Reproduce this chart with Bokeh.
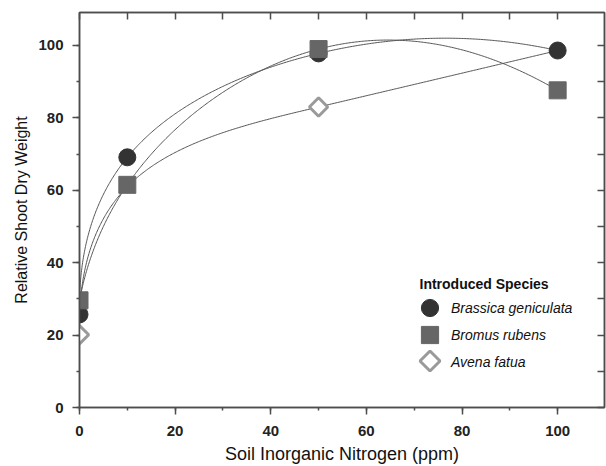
import numpy as np
from bokeh.plotting import figure
from bokeh.models import (Range1d, LinearAxis, SingleIntervalTicker, Legend, LegendItem, Label,
                          PolyAnnotation)
from bokeh.embed import file_html
from bokeh.resources import INLINE

# ---- data ----
nitrogen = [0, 10, 50, 100]
brassica = [25.7, 69.1, 97.8, 98.6]
bromus = [29.6, 61.5, 99.0, 87.6]
avena = [20.1, 61.0, 83.0, 98.6]
avena_marked = [True, False, True, False]   # markers hidden behind other series in the original
names = ["Brassica geniculata", "Bromus rubens", "Avena fatua"]
x_ticks = [0, 20, 40, 60, 80, 100]
y_ticks = [0, 20, 40, 60, 80, 100]

X_MAX, Y_MAX = 109.8, 109.1
W, H = 606, 466
B_LEFT, B_TOP, B_BOTTOM, B_RIGHT = 79, 12, 59, 2
PX_X = (W - B_LEFT - B_RIGHT) / X_MAX
PX_Y = (H - B_TOP - B_BOTTOM) / Y_MAX


def spline_1d(t, v, tt):
    # cubic spline with parabolic run-out end conditions
    k = len(t); h = np.diff(t)
    A = np.zeros((k, k)); b = np.zeros(k)
    A[0, 0] = 1; A[0, 1] = -1
    A[-1, -1] = 1; A[-1, -2] = -1
    for i in range(1, k - 1):
        A[i, i - 1] = h[i - 1]; A[i, i] = 2 * (h[i - 1] + h[i]); A[i, i + 1] = h[i]
        b[i] = 6 * ((v[i + 1] - v[i]) / h[i] - (v[i] - v[i - 1]) / h[i - 1])
    M = np.linalg.solve(A, b)
    out = np.empty_like(tt)
    for j, x in enumerate(tt):
        i = min(max(np.searchsorted(t, x, side="right") - 1, 0), k - 2)
        s = (x - t[i]) / h[i]
        out[j] = ((1 - s) * v[i] + s * v[i + 1]
                  + h[i] ** 2 / 6 * (((1 - s) ** 3 - (1 - s)) * M[i] + (s ** 3 - s) * M[i + 1]))
    return out


def parametric_spline(xs, ys, n=400):
    # chord-length parametric spline computed in screen space
    sx = np.asarray(xs, float) * PX_X
    sy = np.asarray(ys, float) * PX_Y
    t = np.concatenate([[0], np.cumsum(np.hypot(np.diff(sx), np.diff(sy)))])
    tt = np.linspace(0, t[-1], n)
    return spline_1d(t, sx, tt) / PX_X, spline_1d(t, sy, tt) / PX_Y


p = figure(width=W, height=H, output_backend="svg", toolbar_location=None,
           x_range=Range1d(0, X_MAX), y_range=Range1d(0, Y_MAX),
           min_border_left=B_LEFT, min_border_top=B_TOP, min_border_bottom=B_BOTTOM,
           min_border_right=B_RIGHT)
p.grid.visible = False
p.outline_line_color = "#4d4d4d"
p.outline_line_width = 1.5

FONT = "Liberation Sans"
AX = "#4d4d4d"
for ax in (p.xaxis[0], p.yaxis[0]):
    ax.ticker = SingleIntervalTicker(interval=20, num_minor_ticks=2)
    ax.axis_line_color = AX; ax.axis_line_width = 1.5
    ax.major_tick_line_color = AX; ax.major_tick_line_width = 1.5
    ax.minor_tick_line_color = AX; ax.minor_tick_line_width = 1.5
    ax.major_tick_out = 7; ax.major_tick_in = 0
    ax.minor_tick_out = 3; ax.minor_tick_in = 0
    ax.major_label_text_font = FONT
    ax.major_label_text_font_style = "bold"
    ax.major_label_text_font_size = "15px"
    ax.major_label_text_color = "#222222"
    ax.axis_label_text_font = FONT
    ax.axis_label_text_font_style = "normal"
    ax.axis_label_text_color = "#111111"

p.xaxis[0].axis_label = "Soil Inorganic Nitrogen (ppm)"
p.yaxis[0].axis_label = "Relative Shoot Dry Weight"
p.xaxis[0].axis_label_text_font_size = "18px"
p.yaxis[0].axis_label_text_font_size = "16px"
p.xaxis[0].major_label_standoff = 11
p.yaxis[0].major_label_standoff = 9
p.xaxis[0].axis_label_standoff = 5
p.yaxis[0].axis_label_standoff = 5

for loc in ("above", "right"):
    ax = LinearAxis(ticker=SingleIntervalTicker(interval=10, num_minor_ticks=0))
    ax.axis_line_color = AX; ax.axis_line_width = 1.5
    ax.major_tick_line_color = AX; ax.major_tick_line_width = 1.5
    ax.major_tick_in = 7; ax.major_tick_out = 0
    ax.minor_tick_line_color = None
    ax.major_label_text_color = None
    ax.major_label_text_font_size = "0px"
    ax.major_label_standoff = 0
    p.add_layout(ax, loc)

line_color = "#555555"
for ys in (brassica, bromus, avena):
    xx, yy = parametric_spline(nitrogen, ys)
    p.line(xx, yy, line_color=line_color, line_width=1)

ax_x = [x for x, m in zip(nitrogen, avena_marked) if m]
ax_y = [y for y, m in zip(avena, avena_marked) if m]
r3 = p.scatter(ax_x, ax_y, marker="square", size=13, angle=np.pi / 4, fill_color="white",
               line_color="#9a9a9a", line_width=3)
r1 = p.scatter(nitrogen, brassica, marker="circle", size=17, fill_color="#333333", line_color="#333333")
r2 = p.scatter(nitrogen, bromus, marker="square", size=17, fill_color="#666666", line_color="#666666")
# invisible proxy so the legend row for Avena carries its label
r3_proxy = p.scatter(ax_x, ax_y, marker="circle", size=1, fill_alpha=0, line_alpha=0)

LEG_Y = [78, 51, 24]
for name, rend, ly in zip(names, (r1, r2, r3_proxy), LEG_Y):
    lg = Legend(items=[LegendItem(label=name, renderers=[rend])],
                location=(329, ly),
                label_text_font=FONT, label_text_font_style="italic", label_text_font_size="14px",
                label_text_color="#111111",
                glyph_width=43, glyph_height=43, spacing=0, padding=0, margin=0,
                label_standoff=-5, border_line_color=None, background_fill_alpha=0)
    p.add_layout(lg, "center")

# legend key for the diamond (rotated square), frame-relative screen px
cx, cy, r = 350.5, 46.5, 10
p.add_layout(PolyAnnotation(xs=[cx, cx + r, cx, cx - r], ys=[cy + r, cy, cy - r, cy],
                            xs_units="screen", ys_units="screen",
                            fill_color="white", fill_alpha=1,
                            line_color="#9a9a9a", line_alpha=1, line_width=3))

p.add_layout(Label(x=340, y=124, x_units="screen", y_units="screen", text="Introduced Species",
                   text_font=FONT, text_font_style="bold", text_font_size="14px",
                   text_color="#111111", text_baseline="alphabetic"))

open("out.html", "w").write(file_html(p, INLINE))
